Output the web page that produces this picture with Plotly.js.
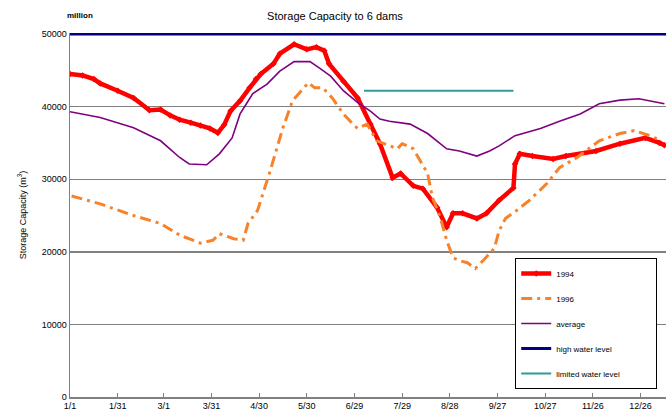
<!DOCTYPE html>
<html>
<head>
<meta charset="utf-8">
<script src="https://cdn.plot.ly/plotly-3.0.1.min.js"></script>
<style>html,body{margin:0;padding:0;background:#fff;}#chart{width:666px;height:419px;}</style>
</head>
<body>
<div id="chart"></div>
<script>
// Day-of-year positions (0 = 1/1) and tick labels
const tickDays = [0, 30, 59, 89, 119, 149, 179, 209, 239, 269, 299, 329, 359];
const tickLabels = ["1/1", "1/31", "3/1", "3/31", "4/30", "5/30", "6/29", "7/29", "8/28", "9/27", "10/27", "11/26", "12/26"];

// 1994 series
const days1994 = [0, 8, 15, 19, 30, 40, 50, 57, 63, 69, 76, 82, 88, 93, 97, 101, 107, 113, 117, 120, 128, 132, 141, 149, 155, 160, 163, 172, 181, 189, 195, 203, 208, 216, 222, 231, 237, 241, 247, 256, 262, 270, 279, 280, 283, 291, 304, 312, 331, 346, 362, 371, 374];
const cap1994 = [44500, 44300, 43800, 43200, 42200, 41200, 39500, 39600, 38800, 38200, 37800, 37400, 37000, 36400, 37500, 39400, 40800, 42600, 43800, 44500, 45900, 47300, 48600, 47900, 48200, 47700, 45900, 43500, 41200, 37600, 34900, 30200, 30800, 29100, 28700, 26100, 23400, 25300, 25300, 24600, 25300, 27100, 28800, 32100, 33500, 33200, 32800, 33200, 33900, 34900, 35700, 35000, 34700];

// 1996 series
const days1996 = [1, 19, 40, 57, 69, 82, 90, 94, 103, 109, 112, 118, 126, 134, 140, 150, 154, 159, 165, 172, 178, 181, 187, 193, 206, 209, 216, 225, 228, 233, 237, 241, 245, 250, 255, 260, 267, 270, 274, 281, 289, 300, 308, 319, 333, 346, 355, 365, 372];
const cap1996 = [27700, 26600, 25000, 23900, 22300, 21200, 21600, 22500, 21800, 21600, 23900, 25700, 31200, 37100, 40800, 43300, 42600, 42600, 41200, 39000, 37600, 37000, 37600, 35300, 34200, 34900, 34200, 30800, 27500, 24700, 21600, 19200, 18800, 18500, 17700, 18800, 20500, 22900, 24600, 25700, 27100, 29400, 31600, 33000, 35300, 36300, 36700, 36000, 35300];

// average series
const daysAvg = [0, 19, 40, 57, 69, 75, 86, 94, 102, 107, 111, 115, 124, 132, 141, 151, 157, 164, 172, 182, 189, 195, 201, 214, 225, 237, 245, 256, 264, 270, 280, 296, 308, 321, 333, 346, 358, 368, 374];
const capAvg = [39300, 38500, 37100, 35300, 33000, 32100, 32000, 33500, 35700, 39000, 40400, 41800, 43100, 44900, 46200, 46200, 45300, 44200, 42200, 40400, 39400, 38300, 38000, 37600, 36300, 34200, 33900, 33200, 33900, 34600, 36000, 37000, 38000, 39000, 40400, 40900, 41100, 40700, 40400];

// reference levels
const highDays = [0, 375];
const highLevel = [50000, 50000];
const limitedDays = [185, 279];
const limitedLevel = [42200, 42200];

const pad = "\u00a0".repeat(14);

const traces = [
  {x: days1994, y: cap1994, name: "1994", mode: "lines+markers", legendgroup: "a",
   line: {color: "#FF0000", width: 4.5}, marker: {symbol: "diamond", size: 5, color: "#FF0000"}},
  {x: days1996, y: cap1996, name: "1996", mode: "lines", legendgroup: "b",
   line: {color: "#F7822A", width: 3, dash: "11px,5px,3px,5px"}},
  {x: daysAvg, y: capAvg, name: "average", mode: "lines", legendgroup: "c",
   line: {color: "#800080", width: 1.6}},
  {x: highDays, y: highLevel, name: "high water level", mode: "lines", legendgroup: "d",
   line: {color: "#000080", width: 3}},
  {x: limitedDays, y: limitedLevel, name: "limited water level" + pad, mode: "lines", legendgroup: "e",
   line: {color: "#2E9A9A", width: 2}}
];

const layout = {
  width: 666, height: 419,
  margin: {l: 70, r: 0, t: 33, b: 22},
  paper_bgcolor: "#fff", plot_bgcolor: "#fff",
  font: {family: "Liberation Sans, Arial, sans-serif", size: 9, color: "#000"},
  title: {text: "Storage Capacity to 6 dams", font: {size: 11, color: "#000"},
          x: 0.503, xanchor: "center", y: 0.962, yanchor: "middle", yref: "container"},
  showlegend: true,
  legend: {x: 0.747, y: 0.382, xanchor: "left", yanchor: "top",
           bgcolor: "#fff", bordercolor: "#000", borderwidth: 1,
           font: {size: 8, color: "#000"}, tracegroupgap: 6},
  xaxis: {range: [0, 375], tickvals: tickDays, ticktext: tickLabels,
          showgrid: false, zeroline: false, showline: true, linecolor: "#808080", linewidth: 1.5,
          ticks: "inside", ticklen: 4, tickcolor: "#808080", tickfont: {size: 9}},
  yaxis: {range: [0, 50150], tickvals: [0, 10000, 20000, 30000, 40000, 50000],
          ticktext: ["0", "10000", "20000", "30000", "40000", "50000"],
          showgrid: true, gridcolor: "#808080", gridwidth: 1.5, zeroline: false,
          showline: true, linecolor: "#808080", linewidth: 1.5, ticks: "",
          tickfont: {size: 9},
          title: {text: "Storage Capacity (m<sup>3</sup>)", font: {size: 9}, standoff: 13}},
  annotations: [
    {text: "<b>million</b>", xref: "paper", yref: "paper", x: 0.017, y: 1.047,
     xanchor: "center", yanchor: "middle", showarrow: false, font: {size: 8, color: "#000"}}
  ]
};

Plotly.newPlot("chart", traces, layout, {displayModeBar: false, staticPlot: true});
</script>
</body>
</html>
